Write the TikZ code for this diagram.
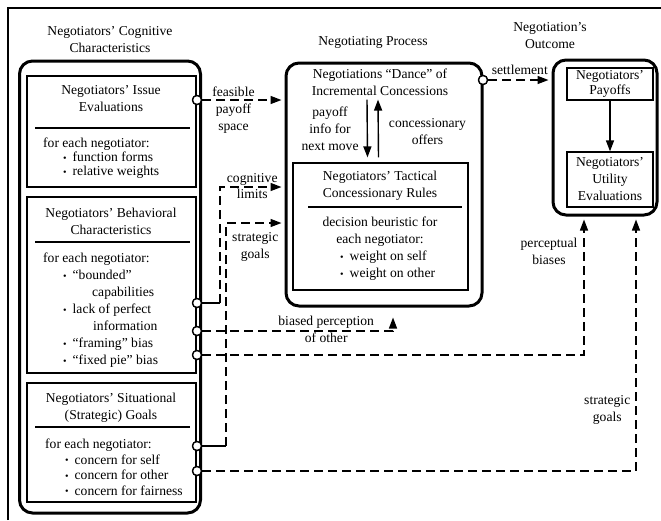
\documentclass[tikz,border=0pt]{standalone}
\usepackage{fontspec}
\setmainfont{Liberation Serif}
\usetikzlibrary{arrows.meta,positioning,calc}

\newcommand{\bul}{\raisebox{0.5pt}{\fontsize{10}{10}\selectfont\textbullet}\hspace{6pt}}

\begin{document}
\begin{tikzpicture}[
    x=1pt, y=-1pt,
    font=\fontsize{13.6}{17}\selectfont,
    >={Triangle[length=11pt, width=8pt]},
    bigframe/.style={draw, line width=3pt, rounded corners=13pt, inner sep=0pt},
    charbox/.style={draw, line width=1.2pt, inner sep=0pt},
    port/.style={draw, circle, line width=1.3pt, minimum size=9pt,
        inner sep=0pt, fill=white},
    flow/.style={line width=1.4pt, dash pattern=on 9pt off 5pt},
    stub/.style={line width=1.4pt},
    lbl/.style={align=center, inner sep=0pt},
    body/.style={align=left, inner sep=0pt, anchor=north west},
    rulebar/.style={line width=2.4pt},
]
\useasboundingbox (0,0) rectangle (661,520);

% outer page frame, cut at right and bottom
\draw[line width=1.5pt] (8,520) -- (8,8) -- (661,8);

% =====================================================
% Cognitive characteristics (left column)
% =====================================================
\node[lbl] (cogtitle) at (110,40) {Negotiators' Cognitive\\Characteristics};
\node[bigframe, minimum width=181pt, minimum height=452pt]
    (cogframe) at (110,287) {};

% --- issue evaluations ---
\node[charbox, minimum width=169pt, minimum height=111pt]
    (issue) at (111.5,131.5) {};
\node[lbl] (issuehead) at (111,99) {Negotiators' Issue\\Evaluations};
\draw[rulebar] (35,128) -- (190,128);
\node[body] (issuebody) at (43,138)
    {for each negotiator:\\[-3pt]
     \hspace*{20pt}\bul function forms\\[-3pt]
     \hspace*{20pt}\bul relative weights};

% --- behavioral characteristics ---
\node[charbox, minimum width=169pt, minimum height=176pt]
    (behav) at (111.5,285) {};
\node[lbl] (behavhead) at (111,221.5) {Negotiators' Behavioral\\Characteristics};
\draw[rulebar] (35,242) -- (190,242);
\node[body] (behavbody) at (43,253)
    {for each negotiator:\\
     \hspace*{20pt}\bul ``bounded''\\
     \hspace*{49pt}capabilities\\
     \hspace*{20pt}\bul lack of perfect\\
     \hspace*{50pt}information\\
     \hspace*{20pt}\bul ``framing'' bias\\
     \hspace*{20pt}\bul ``fixed pie'' bias};

% --- situational goals ---
\node[charbox, minimum width=169pt, minimum height=119pt]
    (situ) at (111.5,442.5) {};
\node[lbl] (situhead) at (111,407.5) {Negotiators' Situational\\(Strategic) Goals};
\draw[rulebar] (35,427) -- (190,427);
\node[body] (situbody) at (45,439)
    {for each negotiator:\\[-1.5pt]
     \hspace*{20pt}\bul concern for self\\[-1.5pt]
     \hspace*{20pt}\bul concern for other\\[-1.5pt]
     \hspace*{20pt}\bul concern for fairness};

% =====================================================
% Negotiating process (middle)
% =====================================================
\node[lbl] (proctitle) at (373,42) {Negotiating Process};
\node[bigframe, minimum width=196pt, minimum height=243pt]
    (procframe) at (384,184.5) {};

\node[lbl] (dance) at (380,82)
    {Negotiations ``Dance'' of\\Incremental Concessions};

\node[charbox, minimum width=175pt, minimum height=127pt]
    (tactic) at (380.5,226.5) {};
\node[lbl] (tachead) at (380,185.5) {Negotiators' Tactical\\Concessionary Rules};
\draw[rulebar] (308,207) -- (462,207);
\node[lbl] (tacbody) at (380,231.5) {decision beuristic for\\each negotiator:};
\node[body] (tacitems) at (340,251)
    {\bul weight on self\\\bul weight on other};

\draw[->, stub] ([xshift=-13pt, yshift=-4pt]dance.south)
    -- ([xshift=-13pt, yshift=5pt]tactic.north)
    node[pos=0.5, left=8pt, lbl] {payoff\\info for\\next move};
\draw[->, stub] ([xshift=-2pt, yshift=5pt]tactic.north)
    -- ([xshift=-2pt, yshift=-4pt]dance.south)
    node[pos=0.45, right=10pt, lbl] {concessionary\\offers};

% =====================================================
% Negotiation's outcome (right)
% =====================================================
\node[lbl] (outtitle) at (550,36) {Negotiation's\\Outcome};
\node[bigframe, minimum width=104pt, minimum height=155pt]
    (outframe) at (605,137.5) {};
\node[charbox, minimum width=86pt, minimum height=32pt, align=center]
    (payoffs) at (610,84) {Negotiators'\\[-2pt]Payoffs};
\node[charbox, minimum width=86pt, minimum height=55pt, align=center]
    (utility) at (610,179.5) {Negotiators'\\Utility\\Evaluations};
\draw[->, stub] (payoffs.south) -- (utility.north);

% =====================================================
% Connectors
% =====================================================
\node[port] (pfeas) at (197,100) {};
\node[port] (pcap) at (197,303) {};
\node[port] (pinfo) at (197,331) {};
\node[port] (ppie) at (197,355) {};
\node[port] (pself) at (197,446) {};
\node[port] (pother) at (197,471) {};
\node[port] (psettle) at (483,80) {};

\coordinate (limbend) at (220,187);
\coordinate (goalbend) at (226,223);
\coordinate (biasbend) at (393,331);
\coordinate (percbend) at (584,355);
\coordinate (stratbend) at (636,471);

\draw[->, flow, shorten >=3pt]
    (pfeas.east) -- (pfeas.east -| procframe.west)
    node[pos=0.38, above=3pt, lbl] {feasible}
    node[pos=0.38, below=3pt, lbl] {payoff\\space};

\draw[stub] (pcap.east) -- (pcap.east -| limbend);
\draw[->, flow, shorten >=3pt]
    (pcap.east -| limbend) -- (limbend) -- (limbend -| procframe.west)
    node[midway, above=1pt, lbl] {cognitive}
    node[midway, below=1pt, lbl] {limits};

\draw[stub] (pself.east) -- (pself.east -| goalbend);
\draw[->, flow, shorten >=3pt]
    (pself.east -| goalbend) -- (goalbend) -- (goalbend -| procframe.west)
    node[midway, below=9pt, lbl] {strategic\\goals};

\draw[->, flow, shorten >=10pt]
    (pinfo.east) -- (biasbend) -- (biasbend |- procframe.south);
\node[lbl, above=2pt] (biaslbl) at ($(pinfo.east)!0.65!(biasbend)$) {biased perception};
\node[lbl, below=2pt] (otherlbl) at ($(pinfo.east)!0.65!(biasbend)$) {of other};

\draw[->, flow, shorten >=3pt]
    (ppie.east) -- (percbend) -- (percbend |- outframe.south)
    node[pos=0.75, left=6pt, lbl] {perceptual\\biases};

\draw[->, flow, shorten >=3pt]
    (pother.east) -- (stratbend) -- (stratbend |- outframe.south)
    node[pos=0.24, left=5pt, lbl] {strategic\\goals};

\draw[->, flow, shorten >=3pt]
    (psettle.east) -- (psettle.east -| outframe.west)
    node[midway, above=5pt, lbl] {settlement};

% ports on top of the lines
\foreach \p in {pfeas,pcap,pinfo,ppie,pself,pother,psettle}
    \node[port] at (\p) {};

\end{tikzpicture}
\end{document}
